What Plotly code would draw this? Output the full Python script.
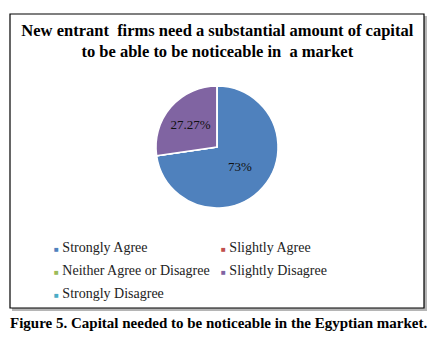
import plotly.graph_objects as go

categories = ["Strongly Agree", "Slightly Agree", "Neither Agree or Disagree",
              "Slightly Disagree", "Strongly Disagree"]
values = [72.73, 0, 0, 27.27, 0]
slice_labels = ["73%", "", "", "27.27%", ""]
colors = ["#4F81BD", "#C0504D", "#9BBB59", "#8064A2", "#4BACC6"]
title_text = "New entrant  firms need a substantial amount of capital<br>to be able to be noticeable in  a market"
caption_text = "Figure 5. Capital needed to be noticeable in the Egyptian market."

W, H = 439, 341
FONT = "Liberation Serif"

def px(x):
    return x / W

def py(y):
    return 1 - y / H

fig = go.Figure()
fig.add_trace(go.Pie(
    labels=categories, values=values, text=slice_labels,
    textinfo="text", textposition="inside", insidetextorientation="horizontal",
    direction="clockwise", rotation=0, sort=False,
    marker=dict(colors=colors, line=dict(color="white", width=1.5)),
    textfont=dict(family=FONT, size=13, color="#111"),
    domain=dict(x=[px(156), px(278)], y=[py(208), py(86)]),
    showlegend=False, hoverinfo="label+percent",
))

shapes = [
    dict(type="rect", xref="paper", yref="paper", layer="below",
         x0=px(12), x1=px(427), y0=py(311), y1=py(16),
         line=dict(width=0), fillcolor="rgba(120,120,120,0.55)"),
    dict(type="rect", xref="paper", yref="paper", layer="below",
         x0=px(10), x1=px(424), y0=py(308), y1=py(14),
         line=dict(width=1.2, color="black"), fillcolor="white"),
]

annotations = []
col_x = [52, 219]
row_y = [247, 270, 293]
for i, (cat, col) in enumerate(zip(categories, colors)):
    r, c = divmod(i, 2)
    annotations.append(dict(
        xref="paper", yref="paper", x=px(col_x[c]), y=py(row_y[r]),
        xanchor="left", yanchor="middle", showarrow=False,
        text=f"<span style='color:{col};font-size:8px'>■</span> {cat}",
        font=dict(family=FONT, size=14, color="#222"),
    ))

annotations.append(dict(
    xref="paper", yref="paper", x=px(218), y=py(323),
    xanchor="center", yanchor="middle", showarrow=False,
    text=f"<b>{caption_text}</b>",
    font=dict(family=FONT, size=15, color="black"),
))

fig.update_layout(
    width=W, height=H,
    margin=dict(l=0, r=0, t=0, b=0),
    paper_bgcolor="white", plot_bgcolor="white",
    title=dict(text=f"<b>{title_text}</b>", x=0.495, xanchor="center",
               y=py(36), yanchor="top", yref="container",
               font=dict(family=FONT, size=16.5, color="black")),
    shapes=shapes, annotations=annotations,
)

fig.write_html("out.html")
